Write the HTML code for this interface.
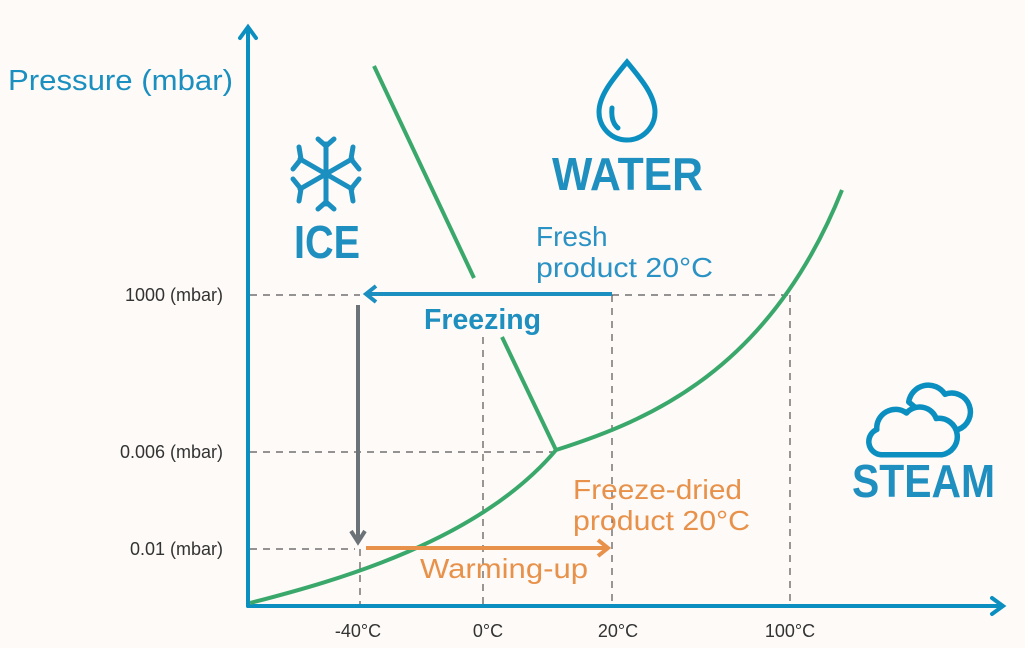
<!DOCTYPE html>
<html><head><style>
body{margin:0;background:#fdfaf7;}
svg{display:block}
text{font-family:"Liberation Sans",sans-serif}
</style></head><body>
<svg width="1025" height="648" viewBox="0 0 1025 648">
<rect width="1025" height="648" fill="#fdfaf7"/>
<g stroke="#555" stroke-width="1.2" stroke-dasharray="7,6" fill="none">
<line x1="250" y1="295" x2="360" y2="295"/>
<line x1="612" y1="295" x2="790" y2="295"/>
<line x1="612" y1="295" x2="612" y2="605"/>
<line x1="790" y1="295" x2="790" y2="605"/>
<line x1="483" y1="337" x2="483" y2="605"/>
<line x1="250" y1="452" x2="556" y2="452"/>
<line x1="250" y1="549" x2="355" y2="549"/>
<line x1="360" y1="549" x2="360" y2="605"/>
</g>
<g stroke="#0a8fc0" stroke-width="4" fill="none" stroke-linecap="round">
<line x1="248" y1="606" x2="248" y2="28"/>
<polyline points="240,38 248,27 256,38"/>
<line x1="248" y1="606" x2="1002" y2="606"/>
<polyline points="992,598 1003,606 992,614"/>
</g>
<g stroke="#3aa86b" stroke-width="4" fill="none">
<line x1="374" y1="66" x2="474" y2="278"/>
<line x1="502" y1="337" x2="556" y2="450"/>
<path d="M250,603 C340,580 480,540 556,450 C650,420 770,370 842,190"/>
</g>
<g stroke="#1a8fc0" stroke-width="4" fill="none">
<line x1="612" y1="294" x2="368" y2="294"/>
<polyline points="376,286 366,294 376,302"/>
</g>
<g stroke="#6b7278" stroke-width="4" fill="none">
<line x1="358" y1="305" x2="358" y2="540"/>
<polyline points="351,531 358,542 365,531"/>
</g>
<g stroke="#e8914a" stroke-width="4" fill="none">
<line x1="366" y1="548" x2="606" y2="548"/>
<polyline points="598,540 608,548 598,556"/>
</g>
<g stroke="#1a8fc0" stroke-width="5" fill="none" stroke-linecap="round" transform="translate(326,174)">
<line x1="0" y1="-30" x2="0" y2="30"/><line x1="-26" y1="-15" x2="26" y2="15"/><line x1="-26" y1="15" x2="26" y2="-15"/>
<polyline points="-8,-35 0,-28 8,-35"/><polyline points="-8,35 0,28 8,35"/>
<polyline points="-33,-5 -25,-15 -27,-27"/><polyline points="33,5 25,15 27,27"/>
<polyline points="-33,5 -25,15 -27,27"/><polyline points="33,-5 25,-15 27,-27"/>
</g>
<g stroke="#0a8fc0" stroke-width="5" fill="none" stroke-linecap="round">
<path d="M627,62 C612,80 599,96 599,112 A28,28 0 0 0 655,112 C655,96 642,80 627,62 Z"/>
<path d="M612,108 C611,118 613,124 618,128"/>
</g>
<g stroke="#0a8fc0" stroke-width="5" fill="#fdfaf7" stroke-linejoin="round" transform="translate(868,380) scale(1.1) translate(-868,-380)">
<path d="M905,400 A18,18 0 0 1 938,393 A15,15 0 0 1 950,425 L935,425 Z"/>
<path d="M880,448 A12,12 0 0 1 876,425 A17,17 0 0 1 903,410 A16,16 0 0 1 930,415 A15,15 0 0 1 935,448 Z"/>
</g>
<text x="8" y="90" font-size="29" fill="#1a8fc0" textLength="225" lengthAdjust="spacingAndGlyphs">Pressure (mbar)</text>
<text x="294" y="258" font-size="46" font-weight="bold" fill="#1f8fc0" textLength="66" lengthAdjust="spacingAndGlyphs">ICE</text>
<text x="552" y="190" font-size="46" font-weight="bold" fill="#1f8fc0" textLength="151" lengthAdjust="spacingAndGlyphs">WATER</text>
<text x="852" y="497" font-size="46" font-weight="bold" fill="#1f8fc0" textLength="143" lengthAdjust="spacingAndGlyphs">STEAM</text>
<text x="536" y="246" font-size="28" fill="#2a92c4">Fresh</text>
<text x="536" y="277" font-size="28" fill="#2a92c4" textLength="177" lengthAdjust="spacingAndGlyphs">product 20°C</text>
<text x="424" y="329" font-size="29" font-weight="bold" fill="#1f8fc0" textLength="117" lengthAdjust="spacingAndGlyphs">Freezing</text>
<text x="573" y="499" font-size="28" fill="#e8914a" textLength="169" lengthAdjust="spacingAndGlyphs">Freeze-dried</text>
<text x="573" y="530" font-size="28" fill="#e8914a" textLength="177" lengthAdjust="spacingAndGlyphs">product 20°C</text>
<text x="420" y="578" font-size="28" fill="#e8914a" textLength="168" lengthAdjust="spacingAndGlyphs">Warming-up</text>
<g font-size="18" fill="#333">
<text x="223" y="301" text-anchor="end">1000 (mbar)</text>
<text x="223" y="458" text-anchor="end">0.006 (mbar)</text>
<text x="223" y="555" text-anchor="end">0.01 (mbar)</text>
<text x="358" y="637" text-anchor="middle">-40°C</text>
<text x="488" y="637" text-anchor="middle">0°C</text>
<text x="618" y="637" text-anchor="middle">20°C</text>
<text x="790" y="637" text-anchor="middle">100°C</text>
</g>
</svg>
</body></html>
